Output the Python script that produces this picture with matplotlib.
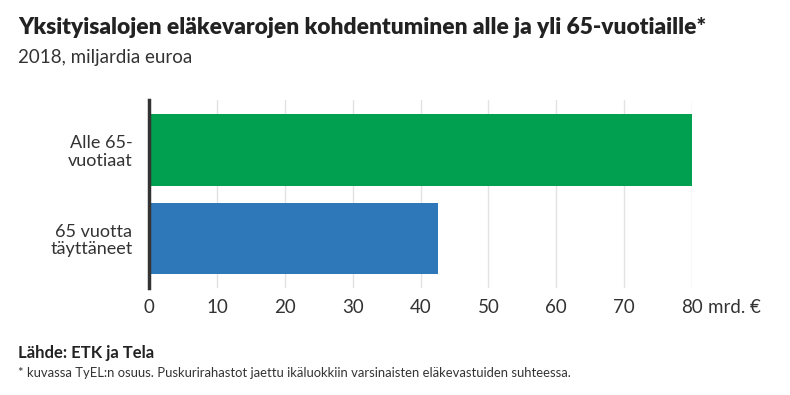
import matplotlib.pyplot as plt

# data
groups = ['Alle 65-\nvuotiaat', '65 vuotta\ntäyttäneet']
values = [80.0, 42.6]
colors = ['#00a050', '#2e77b8']
ticks = [0, 10, 20, 30, 40, 50, 60, 70, 80]
tick_labels = ['0', '10', '20', '30', '40', '50', '60', '70', '80']
unit = 'mrd. €'

plt.rcParams['font.family'] = ['Lato', 'DejaVu Sans']
txt = '#333333'

fig = plt.figure(figsize=(7.9, 3.95), dpi=100)
ax = fig.add_axes([149 / 790, 1 - 288 / 395, (692 - 149) / 790, (288 - 100) / 395])

ax.barh(range(len(values)), values, height=0.81, color=colors, zorder=2)
ax.set_ylim(1.56, -0.565)
ax.set_xlim(0, 80)

ax.set_xticks(ticks)
ax.set_xticklabels(tick_labels)
ax.set_yticks(range(len(groups)))
ax.set_yticklabels(groups, ha='right', linespacing=1.1)
ax.tick_params(axis='both', length=0, colors=txt)
ax.tick_params(axis='x', pad=8, labelsize=13.5)
ax.tick_params(axis='y', pad=12, labelsize=13)

# unit after the last tick label
ax.annotate(unit, xy=(80, 0), xycoords=('data', 'axes fraction'), xytext=(11.5, -8),
            textcoords='offset points', ha='left', va='top', fontsize=13.5, color=txt)

ax.grid(axis='x', color='#e3e3e3', linewidth=1, zorder=0)
for s in ['top', 'right', 'bottom']:
    ax.spines[s].set_visible(False)
ax.spines['left'].set_color('#333333')
ax.spines['left'].set_linewidth(2.5)
ax.spines['left'].set_zorder(3)

fig.text(18 / 790, 1 - 28 / 395, 'Yksityisalojen eläkevarojen kohdentuminen alle ja yli 65-vuotiaille*',
         fontsize=16.4, fontweight='heavy', color='#222222', va='center')
fig.text(18 / 790, 1 - 57 / 395, '2018, miljardia euroa', fontsize=13.5, color=txt, va='center')
fig.text(18 / 790, 1 - 353 / 395, 'Lähde: ETK ja Tela', fontsize=12, fontweight='bold', color='#222222', va='center')
fig.text(18 / 790, 1 - 373 / 395,
         '* kuvassa TyEL:n osuus. Puskurirahastot jaettu ikäluokkiin varsinaisten eläkevastuiden suhteessa.',
         fontsize=9.4, color=txt, va='center')

fig.savefig('out.png', dpi=100)
